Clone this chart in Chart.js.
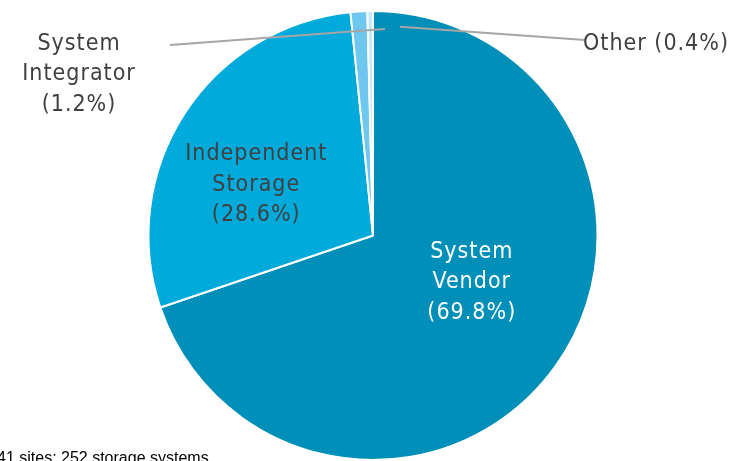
<!DOCTYPE html>
<html>
<head>
<meta charset="utf-8">
<script src="https://cdn.jsdelivr.net/npm/chart.js@4"></script>
<style>
  html, body { margin: 0; padding: 0; background: #fff; }
  #wrap { position: relative; width: 742px; height: 461px; overflow: hidden; }
</style>
</head>
<body>
<div id="wrap"><canvas id="c" width="742" height="461"></canvas></div>
<script>
const categories = ["System Vendor", "Independent Storage", "System Integrator", "Other"];
const shares = [69.8, 28.6, 1.2, 0.4];
const labelLines = [["System", "Vendor"], ["Independent", "Storage"], ["System", "Integrator"], ["Other"]];
const sliceColors = ["#008FB8", "#00AADA", "#6DC7EE", "#C6E7F6"];
const footnote = "41 sites; 252 storage systems";

const FONT = "23px 'DejaVu Sans Condensed', 'DejaVu Sans'";

// draws in-slice labels, outside labels with leader lines, and the footnote
const labelPlugin = {
  id: "labels",
  afterDraw(chart) {
    const ctx = chart.ctx;
    const arcs = chart.getDatasetMeta(0).data;
    const cx = arcs[0].x, cy = arcs[0].y, r = arcs[0].outerRadius;
    ctx.save();
    ctx.font = FONT;
    ctx.letterSpacing = "1px";
    ctx.textAlign = "center";
    ctx.textBaseline = "middle";
    const lh = 30.5;

    // System Vendor inside
    let lines = [...labelLines[0], "(" + shares[0].toFixed(1) + "%)"];
    ctx.fillStyle = "#ffffff";
    lines.forEach((t, i) => ctx.fillText(t, cx + r * 0.44, cy + r * 0.06 + 3 + i * lh));

    // Independent Storage inside
    lines = [...labelLines[1], "(" + shares[1].toFixed(1) + "%)"];
    ctx.fillStyle = "#404040";
    lines.forEach((t, i) => ctx.fillText(t, cx - r * 0.52, cy - r * 0.375 + 3 + i * lh));

    // leader lines
    ctx.strokeStyle = "#A6A6A6";
    ctx.lineWidth = 2;
    ctx.beginPath();
    ctx.moveTo(170, 45);
    ctx.lineTo(cx + 12, cy - r * 0.92);
    ctx.stroke();
    ctx.beginPath();
    ctx.moveTo(cx + 27, cy - r * 0.93);
    ctx.lineTo(585, 40);
    ctx.stroke();

    // System Integrator outside
    lines = [...labelLines[2], "(" + shares[2].toFixed(1) + "%)"];
    ctx.fillStyle = "#404040";
    lines.forEach((t, i) => ctx.fillText(t, 79, 44 + i * lh));

    // Other outside
    ctx.textAlign = "left";
    ctx.fillText(labelLines[3][0] + " (" + shares[3].toFixed(1) + "%)", 583, 44);

    // footnote
    ctx.letterSpacing = "0px";
    ctx.font = "16px 'Liberation Sans'";
    ctx.fillStyle = "#000000";
    ctx.textBaseline = "alphabetic";
    ctx.fillText(footnote, -3, 463);
    ctx.restore();
  }
};

new Chart(document.getElementById("c"), {
  type: "pie",
  data: {
    labels: categories,
    datasets: [{
      data: shares,
      backgroundColor: sliceColors,
      borderColor: "#ffffff",
      borderWidth: 2
    }]
  },
  options: {
    responsive: false,
    animation: false,
    layout: { padding: { top: 10, bottom: 0, left: 4, right: 0 } },
    plugins: {
      legend: { display: false },
      tooltip: { enabled: false }
    }
  },
  plugins: [labelPlugin]
});
</script>
</body>
</html>
